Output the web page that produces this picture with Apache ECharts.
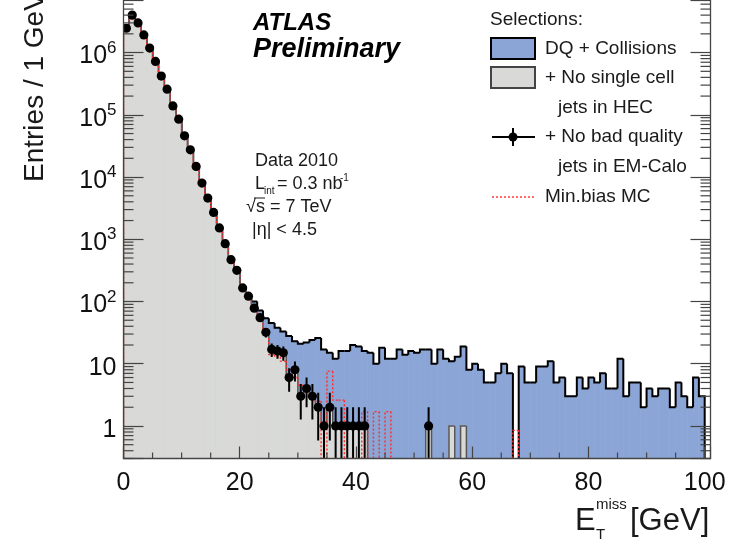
<!DOCTYPE html>
<html><head><meta charset="utf-8">
<script src="https://cdn.jsdelivr.net/npm/echarts@6/dist/echarts.min.js"></script>
<style>html,body{margin:0;padding:0;background:#fff}#c{width:731px;height:543px}</style>
</head><body><div id="c"></div>
<script>
// ---- data (1 GeV bins, lower edges 0..99) ----
const binLow = Array.from({length: 100}, (_, i) => i);
const blueVals = [
  2470000, 4010000, 3010000, 1930000, 1190000, 722000, 421000, 259000, 140000, 85500,
  46300, 27600, 14900, 8050, 4630, 2720, 1535, 860, 478, 325,
  172, 130, 100, 72, 54, 45, 38, 33, 28, 23,
  21, 22, 24, 26, 17, 15, 12, 16, 16, 20,
  19, 16, 15, 10, 18, 12, 12, 17, 14, 16,
  15, 17, 17, 10, 17, 12, 11, 13, 19, 8,
  10, 8, 5, 5, 7, 10, 7, 0, 9, 5,
  5, 9, 9, 11, 5, 6, 3, 3, 6, 4,
  6, 5, 7, 4, 4, 12, 3, 5, 5, 2,
  4, 3, 4, 4, 2, 5, 3, 2, 6, 3
];
const grayVals = [
  2460000, 4000000, 3000000, 1920000, 1180000, 720000, 420000, 258000, 139000, 85000,
  46000, 27400, 14800, 8000, 4600, 2700, 1520, 850, 470, 317,
  165, 122, 78, 55, 32, 17, 16, 15, 6, 8,
  3, 4, 3, 2, 1, 2, 1, 1, 1, 1,
  1, 1, 0, 0, 0, 0, 0, 0, 0, 0,
  0, 0, 1, 0, 0, 0, 1, 0, 1, 0,
  0, 0, 0, 0, 0, 0, 0, 0, 0, 0,
  0, 0, 0, 0, 0, 0, 0, 0, 0, 0,
  0, 0, 0, 0, 0, 0, 0, 0, 0, 0,
  0, 0, 0, 0, 0, 0, 0, 0, 0, 0
];
const dataVals = [
  2460000, 4000000, 3000000, 1920000, 1180000, 720000, 420000, 258000, 139000, 85000,
  46000, 27400, 14800, 8000, 4600, 2700, 1520, 850, 470, 317,
  165, 122, 78, 55, 32, 17, 16, 15, 6, 8,
  3, 4, 3, 2, 1, 2, 1, 1, 1, 1,
  1, 1, 0, 0, 0, 0, 0, 0, 0, 0,
  0, 0, 1, 0, 0, 0, 0, 0, 0, 0,
  0, 0, 0, 0, 0, 0, 0, 0, 0, 0,
  0, 0, 0, 0, 0, 0, 0, 0, 0, 0,
  0, 0, 0, 0, 0, 0, 0, 0, 0, 0,
  0, 0, 0, 0, 0, 0, 0, 0, 0, 0
];
const mcVals = [
  2400000, 3950000, 3050000, 1950000, 1170000, 710000, 425000, 255000, 141000, 84000,
  46500, 27000, 15000, 7900, 4650, 2650, 1550, 840, 480, 310,
  170, 118, 80, 52, 30, 14, 13, 11, 8, 6,
  4.5, 3.5, 3, 2.5, 0, 7.6, 2.6, 2.6, 0, 0,
  0, 1.7, 0, 1.7, 0, 1.7, 0, 0, 0, 0,
  0, 0, 0, 0, 0, 0, 0, 0, 0, 0,
  0, 0, 0, 0, 0, 0, 0, 0.85, 0, 0,
  0, 0, 0, 0, 0, 0, 0, 0, 0, 0,
  0, 0, 0, 0, 0, 0, 0, 0, 0, 0,
  0, 0, 0, 0, 0, 0, 0, 0, 0, 0
];
const xTickLabels = [0, 20, 40, 60, 80, 100];
const xMinorTicks = [5, 10, 15, 25, 30, 35, 45, 50, 55, 65, 70, 75, 85, 90, 95];
const yMinorMultipliers = [2, 3, 4, 5, 6, 7, 8, 9];
const yDecades = [0.1, 1, 10, 100, 1000, 10000, 100000, 1000000];

const XMIN = 0, XMAX = 101, YMIN = 0.3, YMAX = 7e6, YFLOOR = 0.01;
const FONT = '"Liberation Sans", Arial, Helvetica, sans-serif';
const BLUE = '#8ba6d6', GRAY = '#d9dad8';

const yMinor = [];
yDecades.forEach(d => yMinorMultipliers.forEach(m => { const v = d * m; if (v > YMIN && v < YMAX) yMinor.push([0, v]); }));

function histItems(vals) {
  return vals.map((v, i) => [binLow[i], v, i > 0 ? vals[i - 1] : 0, i === vals.length - 1 ? 1 : 0]);
}
const fv = v => (v > 0 ? v : YFLOOR);

function fillRender(color) {
  return function (params, api) {
    const i = api.value(0), v = api.value(1);
    if (!(v > 0)) return null;
    const a = api.coord([i, v]), b = api.coord([i + 1, YFLOOR]);
    return { type: 'rect', shape: { x: a[0], y: a[1], width: b[0] - a[0], height: b[1] - a[1] },
      style: { fill: color, stroke: color, lineWidth: 0.8 } };
  };
}
function lineRender(color, width, dash) {
  return function (params, api) {
    const i = api.value(0), v = api.value(1), p = api.value(2), last = api.value(3);
    if (!(v > 0) && !(p > 0)) return null;
    const pts = [];
    const c = api.coord([i, fv(p)]), a = api.coord([i, fv(v)]), b = api.coord([i + 1, fv(v)]);
    pts.push(c, a);
    if (v > 0) pts.push(b);
    if (last && v > 0) pts.push(api.coord([i + 1, YFLOOR]));
    return { type: 'polyline', shape: { points: pts },
      style: { stroke: color, lineWidth: width, fill: null, lineDash: dash || null, lineJoin: 'miter' } };
  };
}
function pointRender(params, api) {
  const i = api.value(0), v = api.value(1);
  if (!(v > 0)) return null;
  const e = Math.sqrt(v);
  const c = api.coord([i + 0.5, v]), l = api.coord([i, v]), r = api.coord([i + 1, v]);
  const t = api.coord([i + 0.5, v + e]), bt = api.coord([i + 0.5, v - e > 0 ? v - e : YFLOOR]);
  const st = { stroke: '#000', lineWidth: 2 };
  return { type: 'group', children: [
    { type: 'line', shape: { x1: l[0], y1: l[1], x2: r[0], y2: r[1] }, style: st },
    { type: 'line', shape: { x1: c[0], y1: t[1], x2: c[0], y2: bt[1] }, style: st },
    { type: 'circle', shape: { cx: c[0], cy: c[1], r: 4.6 }, style: { fill: '#000' } }
  ] };
}

function txt(text, x, y, size, extra) {
  return Object.assign({ type: 'text', x: x, y: y, z: 100, silent: true,
    style: { text: text, font: size + 'px ' + FONT, fill: '#1a1a1a', align: 'left', verticalAlign: 'middle',
      textAlign: 'left', textVerticalAlign: 'middle' } }, extra || {});
}

const chart = echarts.init(document.getElementById('c'), null, { renderer: 'canvas' });
chart.setOption({
  animation: false,
  backgroundColor: '#fff',
  grid: { left: 123.5, right: 20.5, top: 0, bottom: 84.5, containLabel: false, outerBoundsMode: 'none' },
  xAxis: {
    type: 'value', min: XMIN, max: XMAX, interval: 20, z: 10,
    axisLine: { show: true, onZero: false, lineStyle: { color: '#444', width: 1.3 } },
    axisTick: { show: true, inside: true, length: 12, lineStyle: { color: '#444', width: 1.2 } },
    splitLine: { show: false },
    axisLabel: { margin: 12, fontSize: 25, color: '#111', fontFamily: FONT,
      formatter: v => (xTickLabels.indexOf(v) >= 0 ? String(v) : '') }
  },
  yAxis: [{
    type: 'log', logBase: 10, min: YMIN, max: YMAX, position: 'left', z: 10,
    axisLine: { show: true, lineStyle: { color: '#444', width: 1.3 } },
    axisTick: { show: true, inside: true, length: 20, lineStyle: { color: '#444', width: 1.2 } },
    splitLine: { show: false },
    axisLabel: {
      margin: 7, padding: [8, 0, 0, 0],
      formatter: v => {
        const l = Math.log10(v), e = Math.round(l);
        if (Math.abs(l - e) > 1e-6) return '';
        if (e === 0) return '{b|1}';
        if (e === 1) return '{b|10}';
        return '{b|10}{s|' + e + '}';
      },
      rich: {
        b: { fontSize: 25, color: '#111', fontFamily: FONT, lineHeight: 34 },
        s: { fontSize: 17, color: '#111', fontFamily: FONT, lineHeight: 16, verticalAlign: 'top' }
      }
    }
  }, {
    type: 'log', logBase: 10, min: YMIN, max: YMAX, position: 'right', z: 10,
    axisLine: { show: true, lineStyle: { color: '#444', width: 1.3 } },
    axisTick: { show: true, inside: true, length: 20, lineStyle: { color: '#444', width: 1.2 } },
    splitLine: { show: false },
    axisLabel: { show: false }
  }],
  series: [
    { type: 'custom', name: 'DQ + Collisions fill', z: 1, clip: true, data: histItems(blueVals), encode: { x: 0, y: 1 }, renderItem: fillRender(BLUE) },
    { type: 'custom', name: 'DQ + Collisions', z: 2, clip: true, data: histItems(blueVals), encode: { x: 0, y: 1 }, renderItem: lineRender('#000', 2) },
    { type: 'custom', name: 'No single cell fill', z: 3, clip: true, data: histItems(grayVals), encode: { x: 0, y: 1 }, renderItem: fillRender(GRAY) },
    { type: 'custom', name: '+ No single cell jets in HEC', z: 4, clip: true, data: histItems(grayVals), encode: { x: 0, y: 1 }, renderItem: lineRender('#555', 1.5) },
    { type: 'custom', name: 'Min.bias MC', z: 5, clip: true, data: histItems(mcVals), encode: { x: 0, y: 1 }, renderItem: lineRender('#ff2a2a', 1.4, [2, 2]) },
    { type: 'custom', name: '+ No bad quality jets in EM-Calo', z: 6, clip: true, data: dataVals.map((v, i) => [binLow[i], v]), encode: { x: 0, y: 1 }, renderItem: pointRender },
    { type: 'custom', name: 'yminor', z: 8, silent: true, data: yMinor, encode: { x: 0, y: 1 },
      renderItem: (params, api) => {
        const v = api.value(1);
        const L = api.coord([XMIN, v]), R = api.coord([XMAX, v]);
        const st = { stroke: '#444', lineWidth: 1.2 };
        return { type: 'group', children: [
          { type: 'line', shape: { x1: L[0], y1: L[1], x2: L[0] + 10, y2: L[1] }, style: st },
          { type: 'line', shape: { x1: R[0], y1: R[1], x2: R[0] - 10, y2: R[1] }, style: st }
        ] };
      } },
    { type: 'custom', name: 'xminor', z: 8, silent: true, data: xMinorTicks.map(x => [x, YMIN]), encode: { x: 0, y: 1 },
      renderItem: (params, api) => {
        const p = api.coord([api.value(0), YMIN]);
        return { type: 'line', shape: { x1: p[0], y1: p[1], x2: p[0], y2: p[1] - 6 }, style: { stroke: '#444', lineWidth: 1.2 } };
      } }
  ],
  graphic: [
    // axis titles
    txt('Entries / 1 GeV', 35, 182, 28, { rotation: Math.PI / 2 }),
    txt('E', 575, 521, 31),
    txt('miss', 596, 505, 15),
    txt('T', 596, 535, 15),
    txt('[GeV]', 630, 521, 31),
    // ATLAS label
    txt('ATLAS', 253, 23, 24, { style: { text: 'ATLAS', font: 'italic bold 24px ' + FONT, fill: '#000', align: 'left', verticalAlign: 'middle' } }),
    txt('Preliminary', 253, 50, 27, { style: { text: 'Preliminary', font: 'italic bold 27px ' + FONT, fill: '#000', align: 'left', verticalAlign: 'middle' } }),
    // info
    txt('Data 2010', 255, 161, 18),
    txt('L', 255, 184, 18),
    txt('int', 264, 191, 10),
    txt('= 0.3 nb', 277, 184, 18),
    txt('-1', 340, 178, 10),
    txt('\u221A', 246, 207, 18),
    { type: 'line', z: 100, silent: true, shape: { x1: 254, y1: 198, x2: 265, y2: 198 }, style: { stroke: '#1a1a1a', lineWidth: 1 } },
    txt('s = 7 TeV', 256, 207, 18),
    txt('|\u03B7| < 4.5', 252, 230, 18),
    // legend
    txt('Selections:', 490, 20, 19),
    { type: 'rect', z: 100, silent: true, shape: { x: 491, y: 38, width: 44, height: 21 }, style: { fill: BLUE, stroke: '#000', lineWidth: 2 } },
    txt('DQ + Collisions', 545, 49, 19),
    { type: 'rect', z: 100, silent: true, shape: { x: 491, y: 67, width: 44, height: 21 }, style: { fill: GRAY, stroke: '#444', lineWidth: 2 } },
    txt('+ No single cell', 545, 78, 19),
    txt('jets in HEC', 558, 108, 19),
    { type: 'line', z: 100, silent: true, shape: { x1: 492, y1: 137, x2: 535, y2: 137 }, style: { stroke: '#000', lineWidth: 2 } },
    { type: 'line', z: 100, silent: true, shape: { x1: 513, y1: 128, x2: 513, y2: 146 }, style: { stroke: '#000', lineWidth: 2 } },
    { type: 'circle', z: 101, silent: true, shape: { cx: 513, cy: 137, r: 4.5 }, style: { fill: '#000' } },
    txt('+ No bad quality', 545, 137, 19),
    txt('jets in EM-Calo', 558, 167, 19),
    { type: 'line', z: 100, silent: true, shape: { x1: 492, y1: 197, x2: 535, y2: 197 }, style: { stroke: '#ff2a2a', lineWidth: 1.4, lineDash: [2, 2] } },
    txt('Min.bias MC', 545, 197, 19)
  ]
});
</script>
</body></html>
